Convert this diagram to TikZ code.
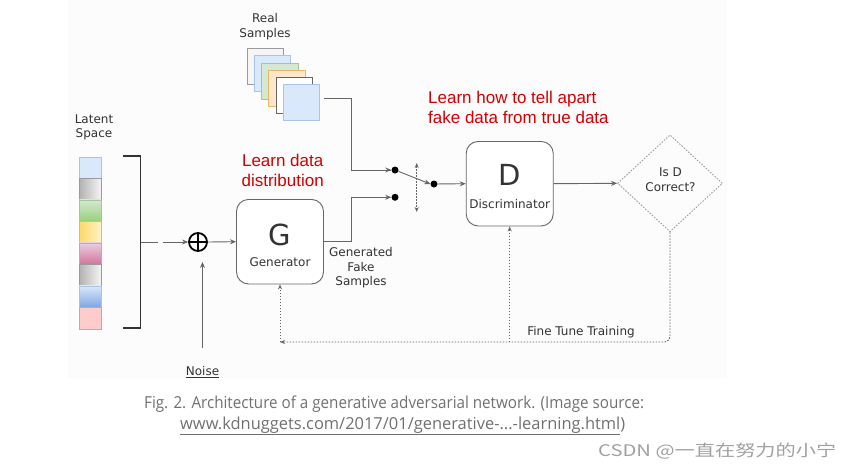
\documentclass[tikz,border=0pt]{standalone}
\usepackage{fontspec}
\usepackage{graphicx}
\setmainfont{DejaVu Sans}
\newfontfamily\redfont{Liberation Sans}
\newfontfamily\capfont{Open Sans}
\newfontfamily\cjk{Noto Sans CJK SC}
\usetikzlibrary{arrows.meta,shapes.geometric,calc}
\definecolor{txt}{HTML}{333333}
\definecolor{ln}{HTML}{666666}
\definecolor{redt}{HTML}{D40000}
\definecolor{capg}{HTML}{707070}
\definecolor{wmg}{HTML}{A0A0A0}
\definecolor{bgc}{HTML}{FCFCFC}
\definecolor{blueF}{HTML}{DAE8FC}
\definecolor{blueD}{HTML}{A9C4EB}
\definecolor{greenF}{HTML}{D5E8D4}
\definecolor{greenD}{HTML}{A3C796}
\definecolor{orangeF}{HTML}{FFE6CC}
\definecolor{orangeD}{HTML}{E8B860}
\definecolor{grayF}{HTML}{F5F5F5}
\definecolor{grayD}{HTML}{9A9A9A}
\definecolor{pinkF}{HTML}{FFCCCC}
\definecolor{pinkD}{HTML}{D6A0A0}
\tikzset{
  lbl/.style={inner sep=0pt, text=txt, font=\fontsize{12}{14.6}\selectfont, align=center},
  redlbl/.style={inner sep=0pt, text=redt, font=\redfont\fontsize{17}{20}\selectfont},
  conn/.style={draw=ln, line width=0.9pt},
  tip/.style={-{Stealth[length=6pt,width=5pt]}},
  fb/.style={draw=ln, line width=0.9pt, dash pattern=on 1.5pt off 1.5pt},
  gbox/.style={draw=ln, line width=0.9pt, rounded corners=12pt, fill=white,
    minimum width=87pt, minimum height=84.5pt, inner sep=0pt},
  cell/.style={draw=#1, line width=0.7pt, minimum width=22pt, minimum height=21.5pt, inner sep=0pt},
  sq/.style={line width=0.8pt, minimum width=36.5pt, minimum height=36pt, inner sep=0pt},
  dot/.style={circle, fill=black, minimum size=7pt, inner sep=0pt},
}
\begin{document}
\begin{tikzpicture}[x=1pt,y=-1pt]
\useasboundingbox (0,0) rectangle (846,471);
\fill[bgc] (68,0) rectangle (727,378);

% Real samples stack
\node[lbl] (real) at (265,26.7) {Real\\Samples};
\node[sq, draw=grayD, fill=grayF, anchor=north west] (s1) at (246.7,48.3) {};
\node[sq, draw=blueD, fill=blueF, anchor=north west] (s2) at (253.9,55.4) {};
\node[sq, draw=greenD, fill=greenF, anchor=north west] (s3) at (261.1,62.6) {};
\node[sq, draw=orangeD, fill=orangeF, anchor=north west] (s4) at (268.3,69.7) {};
\node[sq, draw=ln, fill=white, anchor=north west] (s5) at (275.5,76.9) {};
\node[sq, draw=blueD, fill=blueF, anchor=north west] (s6) at (282.7,84) {};

% Latent space
\node[lbl] (latent) at (94,127.5) {Latent\\Space};
\node[cell=blueD, fill=blueF, anchor=north west] (c1) at (79,156.5) {};
\node[cell=grayD, left color=gray!60, right color=grayF, anchor=north west] (c2) at (79,178) {};
\node[cell=greenD, top color=greenF, bottom color={rgb,255:red,151;green,208;blue,119}, anchor=north west] (c3) at (79,199.5) {};
\node[cell=orangeD, left color={rgb,255:red,255;green,217;blue,102}, right color={rgb,255:red,255;green,242;blue,204}, anchor=north west] (c4) at (79,221) {};
\node[cell=pinkD, top color={rgb,255:red,230;green,208;blue,222}, bottom color={rgb,255:red,213;green,115;blue,157}, anchor=north west] (c5) at (79,242.5) {};
\node[cell=grayD, left color=gray!60, right color=grayF, anchor=north west] (c6) at (79,264) {};
\node[cell=blueD, top color=blueF, bottom color={rgb,255:red,126;green,166;blue,224}, anchor=north west] (c7) at (79,285.5) {};
\node[cell=pinkD, fill=pinkF, anchor=north west] (c8) at (79,307) {};

% bracket
\draw[draw=txt, line width=1.6pt] (123,156) -- (140.5,156) -- (140.5,328) -- (123,328);
\coordinate (br) at (140.5,242);
\coordinate (brA) at (158,242);
\coordinate (brB) at (163,242);
\draw[conn] (br) -- (brA);

% sum
\node[circle, draw=black, line width=1.8pt, minimum size=18pt, inner sep=0pt] (sum) at (198,242) {};
\draw[black, line width=1.8pt] (sum.north) -- (sum.south) (sum.west) -- (sum.east);
\draw[conn, tip] (brB) -- (sum.west);

% noise
\node[lbl] (noise) at (202.5,372) {\underline{Noise}};
\coordinate (nz) at (202.5,348);
\coordinate (nzE) at (202.5,262);
\draw[conn, tip] (nz) -- (nzE);

% generator
\node[gbox] (G) at (280,241.7) {};
\node[inner sep=0pt, text=txt, font=\fontsize{29}{30}\selectfont] (Gl) at (280,235) {G};
\node[lbl] (Gt) at (280,261.7) {Generator};
\draw[conn, tip] (sum.east) -- (G.west);
\node[redlbl, align=center] (learnG) at (282.7,170.7) {Learn data\\distribution};

\node[lbl] (gfs) at (361,268) {Generated\\Fake\\Samples};

% switch
\node[dot] (d1) at (395,170) {};
\node[dot] (d2) at (395,197.3) {};
\node[dot] (d3) at (434,184) {};
\coordinate (rs) at (323,98.5);
\draw[conn] (s6.east |- rs) ++(4,0) coordinate (rs0) -- (351.7,98.5) -- (351.7,170) -- (d1);
\draw[conn, tip] (351.7,170) -- (d1.west);
\draw[conn] (G.east) -- (351.7,241.7) -- (351.7,197.3);
\draw[conn, tip] (351.7,197.3) -- (d2.west);
\draw[conn, tip] (d1) -- (d3.west);
\coordinate (swT) at (416.7,163);
\coordinate (swB) at (416.7,212);
\draw[fb, {Stealth[length=5pt,width=4pt]}-{Stealth[length=5pt,width=4pt]}] (swT) -- (swB);

% discriminator
\node[gbox] (D) at (509.7,183.7) {};
\node[inner sep=0pt, text=txt, font=\fontsize{29}{30}\selectfont] (Dl) at (509.7,175) {D};
\node[lbl] (Dt) at (509.7,204) {Discriminator};
\draw[conn, tip] (d3) -- (D.west);
\node[redlbl, align=left, anchor=west] (learnD) at (428,107) {Learn how to tell apart\\fake data from true data};

% decision
\node[diamond, draw=grayD, line width=0.9pt, dash pattern=on 1.5pt off 1.5pt, minimum width=105pt, minimum height=97pt, inner sep=0pt] (dia) at (670,183.3) {};
\node[lbl] (diat) at (670.5,180) {Is D\\Correct?};
\draw[conn, tip] (D.east) -- (dia.west);

% feedback
\coordinate (fbc) at (280,342);
\coordinate (fbm) at (509.7,342);
\draw[fb, rounded corners=6pt, -{Stealth[length=5pt,width=4pt]}] (dia.south) |- (fbc);
\draw[fb, -{Stealth[length=5pt,width=4pt]}] (fbc) -- (G.south);
\draw[fb, -{Stealth[length=5pt,width=4pt]}] (fbm) -- (D.south);
\node[lbl] (ftt) at (581,332) {Fine Tune Training};

% caption
\node[anchor=west, inner sep=0pt, text=capg] (cap1) at (144,404) {\capfont\fontsize{16.5}{19}\selectfont\resizebox{500pt}{\height}{Fig. 2. Architecture of a generative adversarial network. (Image source:}};
\node[anchor=west, inner sep=0pt, text=capg] (cap2) at (180,426) {\capfont\fontsize{16.5}{19}\selectfont\resizebox{445pt}{\height}{\underline{www.kdnuggets.com/2017/01/generative-...-learning.html})}};
\node[anchor=west, inner sep=0pt, text=wmg] (wm) at (598,451) {\cjk\fontsize{16}{18}\selectfont\resizebox{238pt}{\height}{CSDN @一直在努力的小宁}};
\end{tikzpicture}
\end{document}
